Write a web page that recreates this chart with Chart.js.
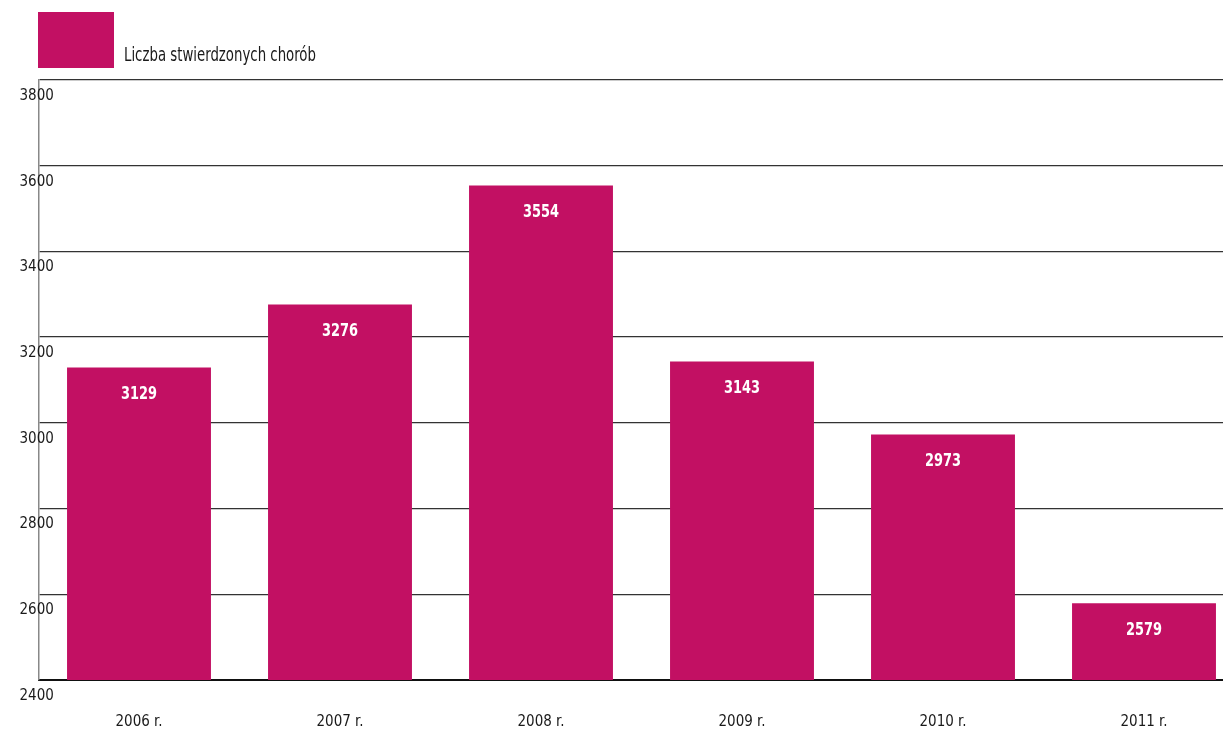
<!DOCTYPE html>
<html>
<head>
<meta charset="utf-8">
<script src="https://cdn.jsdelivr.net/npm/chart.js@4/dist/chart.umd.min.js"></script>
<style>
  html, body { margin: 0; padding: 0; background: #fff; overflow: hidden; }
  #wrap { position: relative; width: 1246px; height: 735px; }
</style>
</head>
<body>
<div id="wrap"><canvas id="chart"></canvas></div>
<script>
var years = ["2006 r.", "2007 r.", "2008 r.", "2009 r.", "2010 r.", "2011 r."];
var diseases = [3129, 3276, 3554, 3143, 2973, 2579];
var seriesName = "Liczba stwierdzonych chorób";
var yMin = 2400, yMax = 3800, yStep = 200;

var FONT = "'DejaVu Sans Condensed', 'DejaVu Sans', sans-serif";
var BAR = "#c21063";
var INK = "#1a1a1a";

// narrow text: draw at a larger size, squeezed horizontally
function squeezedText(ctx, text, x, y, squeeze) {
  ctx.save();
  ctx.translate(x, y);
  ctx.scale(squeeze, 1);
  ctx.fillText(text, 0, 0);
  ctx.restore();
}

// legend: big swatch with the label sitting low beside it
var boxLegend = {
  id: "boxLegend",
  afterDraw: function (chart) {
    var ctx = chart.ctx;
    var ds = chart.data.datasets[0];
    ctx.save();
    ctx.fillStyle = ds.backgroundColor;
    ctx.fillRect(38, 12, 76, 56);
    ctx.fillStyle = INK;
    ctx.font = "20px " + FONT;
    ctx.textAlign = "left";
    ctx.textBaseline = "middle";
    squeezedText(ctx, ds.label, 124, 56, 0.74);
    ctx.restore();
  }
};

// white value written just inside the top of each bar
var barValues = {
  id: "barValues",
  afterDatasetsDraw: function (chart) {
    var ctx = chart.ctx;
    var meta = chart.getDatasetMeta(0);
    var values = chart.data.datasets[0].data;
    ctx.save();
    ctx.fillStyle = "#fff";
    ctx.font = "bold 18px " + FONT;
    ctx.textAlign = "center";
    ctx.textBaseline = "middle";
    meta.data.forEach(function (bar, i) {
      squeezedText(ctx, String(values[i]), bar.x, bar.y + 27, 0.8);
    });
    ctx.restore();
  }
};

new Chart(document.getElementById("chart"), {
  type: "bar",
  data: {
    labels: years,
    datasets: [{
      label: seriesName,
      data: diseases,
      backgroundColor: BAR,
      barPercentage: 0.716,
      categoryPercentage: 1
    }]
  },
  options: {
    responsive: true,
    maintainAspectRatio: false,
    animation: false,
    layout: { padding: { top: 80, left: 0, right: 1.5, bottom: 0 } },
    plugins: {
      legend: { display: false },
      tooltip: { enabled: false }
    },
    scales: {
      x: {
        grid: { display: false, drawTicks: false },
        border: { color: "#111", width: 2 },
        afterFit: function (scale) { scale.height = 55; },
        ticks: {
          padding: 33,
          color: INK,
          font: { family: FONT, size: 15 }
        }
      },
      y: {
        min: yMin,
        max: yMax,
        afterFit: function (scale) { scale.width = 38.5; },
        grid: { color: "#333", lineWidth: 1.3, drawTicks: false },
        border: { color: "#888", width: 1.5 },
        ticks: {
          stepSize: yStep,
          mirror: true,
          padding: -19,
          labelOffset: 16,
          color: INK,
          font: { family: FONT, size: 15 },
          callback: function (value) { return String(value); }
        }
      }
    }
  },
  plugins: [boxLegend, barValues]
});
</script>
</body>
</html>
